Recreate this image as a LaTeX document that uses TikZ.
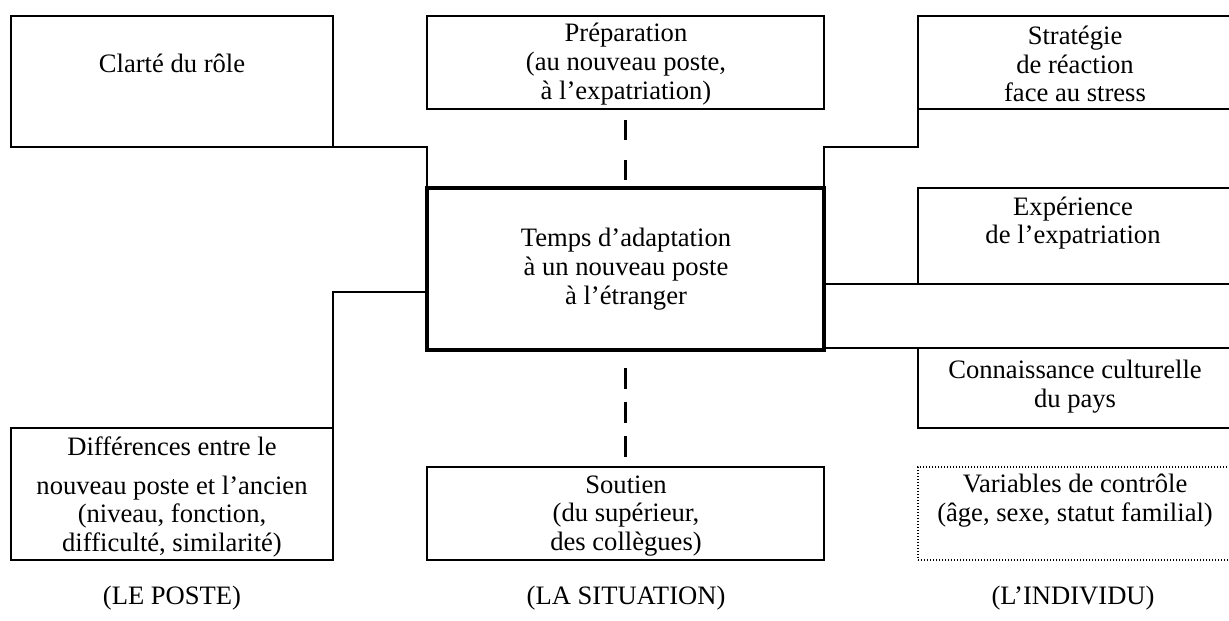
\documentclass[tikz,border=0pt]{standalone}
\usepackage{fontspec}
\setmainfont{Liberation Serif}
\usetikzlibrary{fit}
\begin{document}
\begin{tikzpicture}[x=0.5pt,y=-0.5pt,
 box/.style={draw, line width=0.75pt, inner sep=0pt, outer sep=0pt},
 mainbox/.style={draw, line width=2pt, inner sep=0pt, outer sep=0pt},
 dotbox/.style={draw, line width=0.9pt, dash pattern=on 0.6pt off 0.9pt, inner sep=0pt, outer sep=0pt},
 txt/.style={align=center, font=\fontsize{13.3}{14.4}\selectfont, inner sep=0pt},
 link/.style={line width=0.75pt},
 dashA/.style={line width=1.4pt, dash pattern=on 10pt off 10pt},
 dashB/.style={line width=1.4pt, dash pattern=on 10.5pt off 6.5pt}]
\useasboundingbox (0,0) rectangle (1229,620);
% boxes
\node[box, fit={(11,16) (333,147)}] (clarte) {};
\node[box, fit={(427,16) (824,109)}] (prep) {};
\node[box, fit={(918,16) (1233,109)}] (strat) {};
\node[mainbox, fit={(427,188) (824,350)}] (main) {};
\node[box, fit={(918,188) (1233,284)}] (exp) {};
\node[box, fit={(918,348) (1233,428)}] (conn) {};
\node[box, fit={(11,428) (333,560)}] (diff) {};
\node[box, fit={(427,467) (824,560)}] (sout) {};
\node[dotbox, fit={(918,467) (1233,560)}] (var) {};
% texts
\node[txt] (tclarte) at (172,63) {Clarté du rôle};
\node[txt] (tprep) at (626,64) {Préparation\\(au nouveau poste,\\à l’expatriation)};
\node[txt] (tstrat) at (1075,64) {Stratégie\\de réaction\\face au stress};
\node[txt] (tmain) at (626,269) {Temps d’adaptation\\à un nouveau poste\\à l’étranger};
\node[txt] (texp) at (1073,223) {Expérience\\de l’expatriation};
\node[txt] (tconn) at (1075,387) {Connaissance culturelle\\du pays};
\node[txt] (tdiff) at (172,497) {Différences entre le\\[5pt]nouveau poste et l’ancien\\(niveau, fonction,\\difficulté, similarité)};
\node[txt] (tsout) at (626,516) {Soutien\\(du supérieur,\\des collègues)};
\node[txt] (tvar) at (1075,501) {Variables de contrôle\\(âge, sexe, statut familial)};
\node[txt] (lposte) at (172,598) {(LE POSTE)};
\node[txt] (lsit) at (626,598) {(LA SITUATION)};
\node[txt] (lind) at (1073,598) {(L’INDIVIDU)};
% connectors
\coordinate (dj) at (427,292);
\draw[link] (clarte.south east) -| (main.north west);
\draw[link] (strat.south west) -- ++(0,38) -| (main.north east);
\draw[link] (diff.north east) |- (dj);
\draw[link] (exp.south west) -- (exp.south west -| main.east);
\draw[link] (conn.north west) -- (conn.north west -| main.east);
\draw[dashA] ([yshift=-5.5pt]prep.south) -- ([yshift=4pt]main.north);
\draw[dashB] ([yshift=-9pt]main.south) -- ([yshift=4pt]sout.north);
\end{tikzpicture}
\end{document}
